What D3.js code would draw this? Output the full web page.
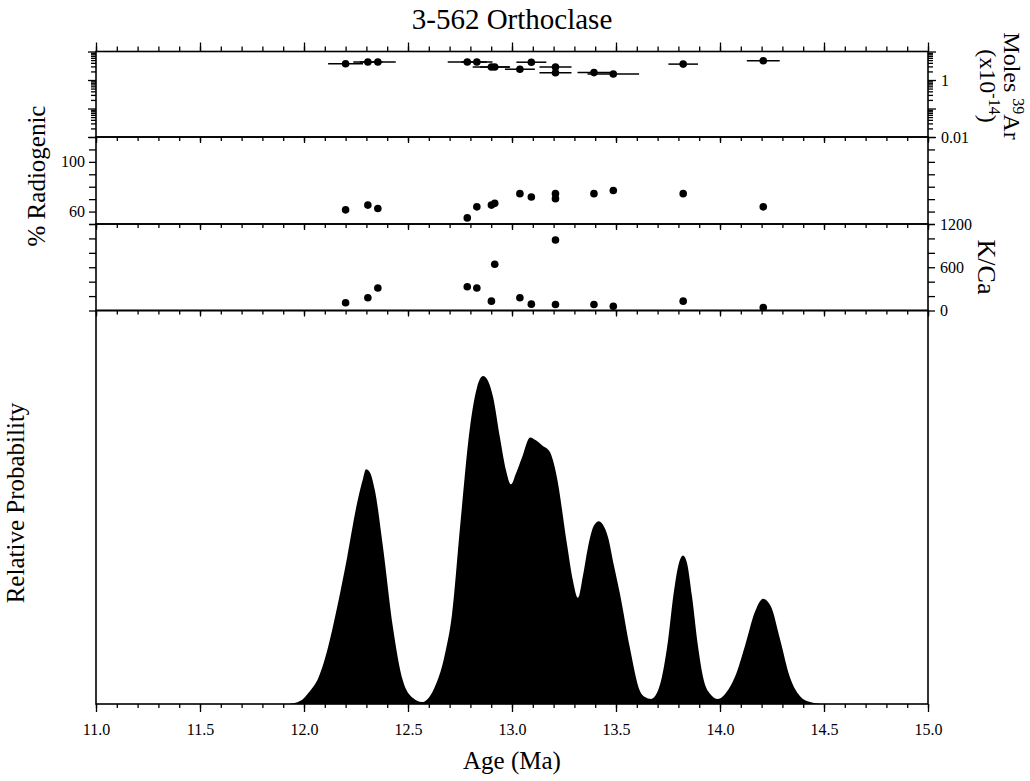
<!DOCTYPE html>
<html>
<head>
<meta charset="utf-8">
<script src="https://cdn.jsdelivr.net/npm/d3@7"></script>
<style>
  body { margin: 0; background: #fff; }
  svg, svg text { font-family: "Liberation Serif", "DejaVu Serif", "Times New Roman", serif; }
</style>
</head>
<body>
<svg id="chart" width="1030" height="781"></svg>
<script>
// Step ages (Ma) with 1-sigma errors
const stepAge = [12.200, 12.307, 12.355, 12.785, 12.831, 12.901, 12.917, 13.038, 13.093, 13.209, 13.209, 13.394, 13.487, 13.823, 14.208];
const stepErr = [0.084, 0.070, 0.086, 0.094, 0.075, 0.090, 0.070, 0.072, 0.072, 0.077, 0.077, 0.079, 0.124, 0.071, 0.079];
// Moles 39Ar (x10^-14)
const moles39 = [3.73, 4.28, 4.28, 4.28, 4.28, 2.86, 2.86, 2.39, 4.21, 2.86, 1.80, 1.82, 1.62, 3.61, 4.72];
// % radiogenic 40Ar
const radiogenic = [61.4, 65.2, 62.5, 54.9, 63.8, 65.2, 66.6, 74.4, 71.7, 74.4, 70.4, 74.4, 76.9, 74.4, 63.8];
// K/Ca ratio
const kca = [107, 177, 312, 330, 312, 130, 642, 177, 88, 977, 84, 84, 60, 130, 42];

// Relative probability curve (age, relative height)
const probAge = [11.928, 11.981, 12.029, 12.062, 12.111, 12.159, 12.207, 12.255, 12.284, 12.298, 12.317, 12.341, 12.380, 12.428, 12.476, 12.524, 12.567,
  12.620, 12.678, 12.712, 12.750, 12.798, 12.832, 12.861, 12.885, 12.909, 12.942, 12.971, 12.995, 13.019, 13.048, 13.087, 13.115, 13.144, 13.183, 13.197,
  13.216, 13.264, 13.293, 13.317, 13.341, 13.365, 13.394, 13.418, 13.442, 13.462, 13.490, 13.519, 13.567, 13.615, 13.639, 13.668, 13.697, 13.721, 13.750,
  13.779, 13.803, 13.822, 13.841, 13.865, 13.894, 13.923, 13.952, 13.990, 14.029, 14.072, 14.120, 14.168, 14.207, 14.245, 14.288, 14.337, 14.385, 14.433, 14.490];
const probValue = [0, 0.009, 0.040, 0.070, 0.162, 0.294, 0.446, 0.612, 0.688, 0.716, 0.706, 0.651, 0.477, 0.232, 0.070, 0.018, 0.006,
  0.040, 0.153, 0.275, 0.538, 0.844, 0.966, 1.000, 0.985, 0.936, 0.813, 0.713, 0.670, 0.703, 0.752, 0.813, 0.804, 0.789, 0.768, 0.743,
  0.691, 0.489, 0.376, 0.324, 0.391, 0.477, 0.544, 0.557, 0.541, 0.508, 0.422, 0.336, 0.171, 0.040, 0.021, 0.015, 0.034, 0.083, 0.193,
  0.346, 0.431, 0.453, 0.431, 0.330, 0.177, 0.070, 0.031, 0.015, 0.034, 0.083, 0.177, 0.281, 0.321, 0.297, 0.199, 0.080, 0.024, 0.006, 0];

// Axis tick values
const ageMajorTicks = [11.0, 11.5, 12.0, 12.5, 13.0, 13.5, 14.0, 14.5, 15.0];
const ageMinorTicks = d3.range(0, 41).map(i => +(11 + i * 0.1).toFixed(1));
const molesMajorTicks = [0.01, 0.1, 1, 10];
const molesLabelTicks = [0.01, 1];
const radTicks = [50, 60, 70, 80, 90, 100, 110, 120];
const radLabelTicks = [60, 100];
const kcaTicks = [0, 200, 400, 600, 800, 1000, 1200];
const kcaLabelTicks = [0, 600, 1200];

const FONT = "'Liberation Serif', 'DejaVu Serif', 'Times New Roman', serif";
const svg = d3.select("#chart");
const left = 96, right = 928;
const band = {
  moles: [51.5, 137],
  rad: [137, 224],
  kca: [224, 310.5],
  prob: [310.5, 704]
};

const x = d3.scaleLinear().domain([11, 15]).range([left, right]);
const yMoles = d3.scaleLog().domain([0.01, 10]).range([band.moles[1], band.moles[0]]);
const yRad = d3.scaleLinear().domain([50, 120]).range([band.rad[1], band.rad[0]]);
const yKca = d3.scaleLinear().domain([0, 1200]).range([band.kca[1], band.kca[0]]);
const yProb = d3.scaleLinear().domain([0, 1.2]).range([band.prob[1], band.prob[0]]);

const molesMinorTicks = [];
[0.01, 0.1, 1].forEach(d => { for (let k = 2; k <= 9; k++) molesMinorTicks.push(+(k * d).toPrecision(2)); });

function styleAxis(g) {
  g.attr("font-family", FONT);
  g.select(".domain").remove();
  g.selectAll(".tick line").attr("stroke", "#000").attr("stroke-width", 1.3);
  g.selectAll(".tick text").attr("fill", "#000").attr("font-family", FONT);
}

function addAxis(axis, tx, ty, fontSize) {
  const g = svg.append("g").attr("transform", `translate(${tx},${ty})`).call(axis);
  styleAxis(g);
  if (fontSize) g.attr("font-size", fontSize).selectAll(".tick text").attr("font-size", fontSize);
  return g;
}

// X ticks: top of the upper panel, and the bottom edge of every panel
addAxis(d3.axisTop(x).tickValues(ageMinorTicks).tickSize(5).tickFormat(""), 0, band.moles[0]);
addAxis(d3.axisTop(x).tickValues(ageMajorTicks).tickSize(9).tickFormat(""), 0, band.moles[0]);
[band.moles[1], band.rad[1], band.kca[1]].forEach(yy => {
  addAxis(d3.axisBottom(x).tickValues(ageMinorTicks).tickSize(4).tickFormat(""), 0, yy);
  addAxis(d3.axisBottom(x).tickValues(ageMajorTicks).tickSize(6).tickFormat(""), 0, yy);
});
addAxis(d3.axisBottom(x).tickValues(ageMinorTicks).tickSize(4).tickFormat(""), 0, band.prob[1]);
addAxis(d3.axisBottom(x).tickValues(ageMajorTicks).tickSize(8).tickPadding(12).tickFormat(d3.format(".1f")), 0, band.prob[1], 16);

// Moles 39Ar log axis
addAxis(d3.axisLeft(yMoles).tickValues(molesMinorTicks).tickSize(5).tickFormat(""), left, 0);
addAxis(d3.axisLeft(yMoles).tickValues(molesMajorTicks).tickSize(8).tickFormat(""), left, 0);
addAxis(d3.axisRight(yMoles).tickValues(molesMinorTicks).tickSize(5).tickFormat(""), right, 0);
addAxis(d3.axisRight(yMoles).tickValues(molesMajorTicks).tickSize(8).tickPadding(5)
  .tickFormat(d => molesLabelTicks.includes(d) ? String(d) : ""), right, 0, 16);

// % radiogenic axis
addAxis(d3.axisLeft(yRad).tickValues(radTicks).tickSize(7).tickPadding(4)
  .tickFormat(d => radLabelTicks.includes(d) ? String(d) : ""), left, 0, 16);
addAxis(d3.axisRight(yRad).tickValues(radTicks).tickSize(7).tickFormat(""), right, 0);

// K/Ca axis
addAxis(d3.axisLeft(yKca).tickValues(kcaTicks).tickSize(7).tickFormat(""), left, 0);
addAxis(d3.axisRight(yKca).tickValues(kcaTicks).tickSize(7).tickPadding(5)
  .tickFormat(d => kcaLabelTicks.includes(d) ? String(d) : ""), right, 0, 16);

// Relative probability curve
const area = d3.area()
  .x((d, i) => x(probAge[i]))
  .y0(yProb(0))
  .y1((d, i) => yProb(probValue[i]))
  .curve(d3.curveMonotoneX);
svg.append("path")
  .datum(probValue)
  .attr("d", area)
  .attr("fill", "#000");

// Panel frames
Object.values(band).forEach(([y0, y1]) => {
  svg.append("rect")
    .attr("x", left).attr("y", y0)
    .attr("width", right - left).attr("height", y1 - y0)
    .attr("fill", "none").attr("stroke", "#000").attr("stroke-width", 1.6);
});

// Moles 39Ar with age error bars
const idx = d3.range(stepAge.length);
svg.append("g").selectAll("line").data(idx).join("line")
  .attr("x1", i => x(stepAge[i] - stepErr[i]))
  .attr("x2", i => x(stepAge[i] + stepErr[i]))
  .attr("y1", i => yMoles(moles39[i]))
  .attr("y2", i => yMoles(moles39[i]))
  .attr("stroke", "#000").attr("stroke-width", 1.5);
svg.append("g").selectAll("circle").data(idx).join("circle")
  .attr("cx", i => x(stepAge[i])).attr("cy", i => yMoles(moles39[i])).attr("r", 3.8);

svg.append("g").selectAll("circle").data(idx).join("circle")
  .attr("cx", i => x(stepAge[i])).attr("cy", i => yRad(radiogenic[i])).attr("r", 3.8);

svg.append("g").selectAll("circle").data(idx).join("circle")
  .attr("cx", i => x(stepAge[i])).attr("cy", i => yKca(kca[i])).attr("r", 3.8);

// Titles and axis labels
const label = (t) => t.attr("font-family", FONT).attr("fill", "#000");
label(svg.append("text").attr("x", 512).attr("y", 29).attr("text-anchor", "middle")
  .attr("font-size", 29).text("3-562 Orthoclase"));
label(svg.append("text").attr("x", 512).attr("y", 769).attr("text-anchor", "middle")
  .attr("font-size", 25).text("Age (Ma)"));
label(svg.append("text").attr("transform", "translate(45,176) rotate(-90)").attr("text-anchor", "middle")
  .attr("font-size", 25).text("% Radiogenic"));
label(svg.append("text").attr("transform", "translate(24,503) rotate(-90)").attr("text-anchor", "middle")
  .attr("font-size", 25).text("Relative Probability"));
label(svg.append("text").attr("transform", "translate(978,267) rotate(90)").attr("text-anchor", "middle")
  .attr("font-size", 26).text("K/Ca"));

const moles = label(svg.append("text").attr("transform", "translate(1004,86) rotate(90)")
  .attr("text-anchor", "middle").attr("font-size", 24));
moles.append("tspan").attr("x", 0).attr("y", 0).text("Moles ");
moles.append("tspan").attr("font-size", 16).attr("dy", -9).text("39");
moles.append("tspan").attr("dy", 9).text("Ar");
moles.append("tspan").attr("x", 0).attr("y", 24).text("(x10");
moles.append("tspan").attr("font-size", 16).attr("dy", -9).text("-14");
moles.append("tspan").attr("dy", 9).text(")");
</script>
</body>
</html>
